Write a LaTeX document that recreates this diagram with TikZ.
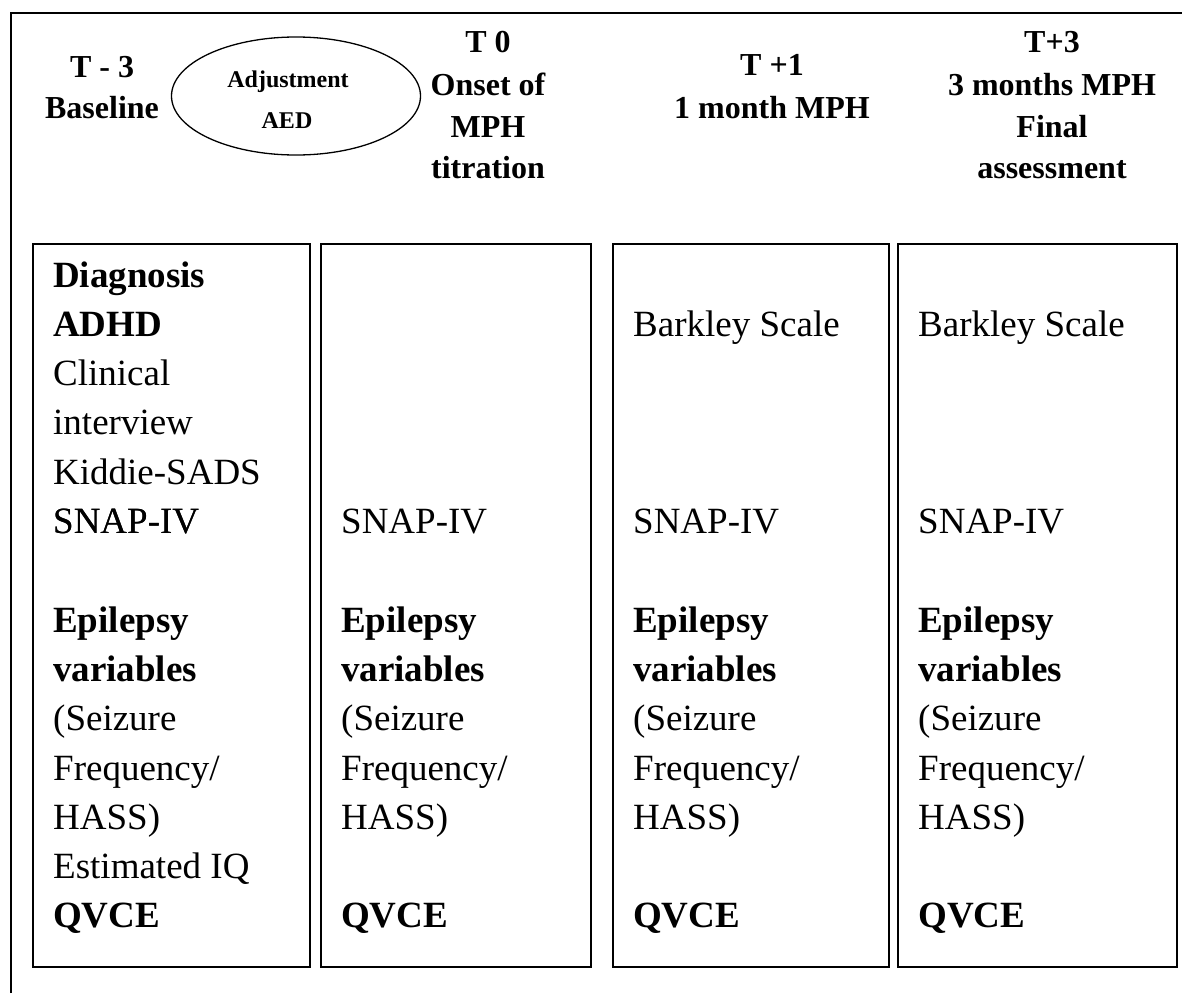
\documentclass[tikz,border=0pt]{standalone}
\usepackage{fontspec}
\setmainfont{Liberation Serif}
\usetikzlibrary{shapes.geometric}
\begin{document}
\begin{tikzpicture}[x=1pt,y=-1pt,
  frame/.style={line width=1.8pt},
  colbox/.style={draw, line width=1.6pt, anchor=north west, inner sep=0pt, minimum height=723pt},
  hd/.style={font=\fontsize{32}{42}\selectfont\bfseries, anchor=base, inner sep=0pt},
  el/.style={font=\fontsize{24}{30}\selectfont\bfseries, anchor=base, inner sep=0pt},
  tx/.style={font=\fontsize{37}{49}\selectfont, anchor=base west, inner sep=0pt},
  tb/.style={font=\fontsize{37}{49}\selectfont\bfseries, anchor=base west, inner sep=0pt}]
\useasboundingbox (0,0) rectangle (1182,993);
% outer frame
\coordinate (fbl) at (11,993);
\coordinate (ftl) at (11,13);
\coordinate (ftr) at (1182,13);
\draw[frame] (fbl) -- (ftl) -- (ftr);
% headers
\node[hd] (h1a) at (102,77) {T - 3};
\node[hd] (h1b) at (102,118) {Baseline};
\node[draw, ellipse, line width=1.3pt, minimum width=249pt, minimum height=118pt, inner sep=0pt] (adj) at (296,96) {};
\node[el] (adja) at (288,87) {Adjustment};
\node[el] (adjb) at (287,128) {AED};
\node[hd] (h2a) at (488,52) {T 0};
\node[hd] (h2b) at (488,95) {Onset of};
\node[hd] (h2c) at (488,137) {MPH};
\node[hd] (h2d) at (488,178) {titration};
\node[hd] (h3a) at (772,75) {T +1};
\node[hd] (h3b) at (772,118) {1 month MPH};
\node[hd] (h4a) at (1052,52) {T+3};
\node[hd] (h4b) at (1052,95) {3 months MPH};
\node[hd] (h4c) at (1052,137) {Final};
\node[hd] (h4d) at (1052,178) {assessment};
% column boxes
\node[colbox, minimum width=277pt] (c1) at (32,243) {};
\node[colbox, minimum width=270pt] (c2) at (320,243) {};
\node[colbox, minimum width=276pt] (c3) at (612,243) {};
\node[colbox, minimum width=279pt] (c4) at (897,243) {};
% column 1
\def\rowy#1{287+49.3*#1}
\node[tb] (a0) at (53,{\rowy{0}}) {Diagnosis};
\node[tb] (a1) at (53,{\rowy{1}}) {ADHD};
\node[tx] (a2) at (53,{\rowy{2}}) {Clinical};
\node[tx] (a3) at (53,{\rowy{3}}) {interview};
\node[tx] (a4) at (53,{\rowy{4}}) {Kiddie-SADS};
\node[tx] (a5) at (53,{\rowy{5}}) {SNAP-IV};
\node[tx] (a12) at (53,{\rowy{12}}) {Estimated IQ};
% shared rows
\foreach \cx/\cn in {53/a,341/b,633/c,918/d}{
  \ifx\cn a\else
    \node[tx] (\cn5) at (\cx,{\rowy{5}}) {SNAP-IV};
  \fi
  \node[tb] (\cn7) at (\cx,{\rowy{7}}) {Epilepsy};
  \node[tb] (\cn8) at (\cx,{\rowy{8}}) {variables};
  \node[tx] (\cn9) at (\cx,{\rowy{9}}) {(Seizure};
  \node[tx] (\cn10) at (\cx,{\rowy{10}}) {Frequency/};
  \node[tx] (\cn11) at (\cx,{\rowy{11}}) {HASS)};
  \node[tb] (\cn13) at (\cx,{\rowy{13}}) {QVCE};
}
\node[tx] (c1t) at (633,{\rowy{1}}) {Barkley Scale};
\node[tx] (d1t) at (918,{\rowy{1}}) {Barkley Scale};
\end{tikzpicture}
\end{document}
